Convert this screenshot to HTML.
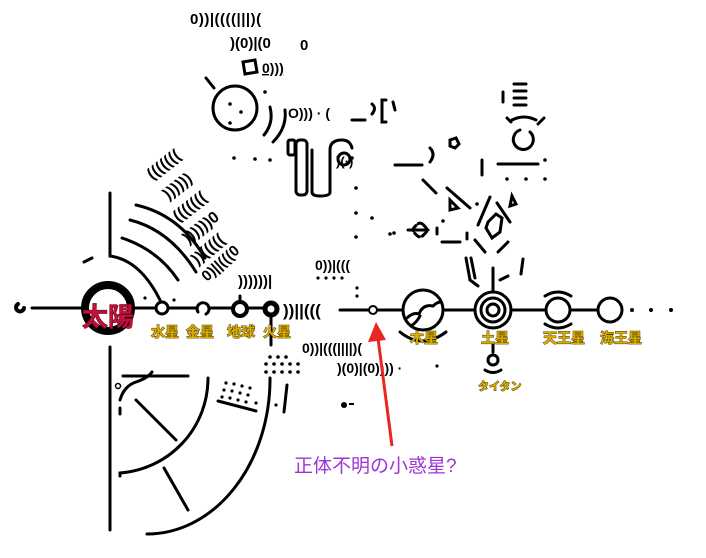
<!DOCTYPE html>
<html><head><meta charset="utf-8"><style>
html,body{margin:0;padding:0;background:#fff;}
svg{display:block}
.p{font-family:"Liberation Sans",sans-serif;font-weight:bold;fill:#000;}
.lab{font-family:"Liberation Sans","Noto Sans CJK JP",sans-serif;font-weight:bold;fill:#dcae00;stroke:#4a3800;stroke-width:0.9;paint-order:stroke;}
</style></head><body>
<svg width="706" height="558" viewBox="0 0 706 558" xmlns="http://www.w3.org/2000/svg">
<g fill="none" stroke="#000" stroke-width="3" stroke-linecap="round">
<path d="M18 304 a4 4 0 1 0 6 4" stroke-width="4"/>
<line x1="32" y1="308" x2="84" y2="308"/>
<line x1="132" y1="308" x2="156" y2="308"/>
<line x1="168" y1="308" x2="196" y2="308"/>
<line x1="210" y1="308" x2="232" y2="308"/>
<line x1="248" y1="308" x2="264" y2="308"/>
<line x1="340" y1="310" x2="368" y2="310"/>
<line x1="378" y1="310" x2="403" y2="310"/>
<line x1="443" y1="310" x2="474" y2="310"/>
<line x1="513" y1="310" x2="544" y2="310"/>
<line x1="570" y1="310" x2="597" y2="310"/>
<circle cx="108" cy="308" r="23" stroke-width="8"/>
<circle cx="162" cy="308" r="6"/>
<path d="M198 312 a6 6 0 1 1 8 2"/>
<circle cx="240" cy="309" r="7" stroke-width="4"/>
<line x1="240" y1="296" x2="240" y2="302"/>
<circle cx="271" cy="309" r="6" stroke-width="5"/>
<circle cx="373" cy="310" r="4" stroke-width="2"/>
<circle cx="423" cy="310" r="20"/>
<path d="M407 318 q6 -6 12 -4 q4 -10 14 -8 q4 -4 8 -4"/>
<path d="M411 326 q6 -4 9 -10"/>
<path d="M400 332 q22 18 46 0"/>
<circle cx="493" cy="310" r="18"/>
<circle cx="493" cy="310" r="12"/>
<circle cx="493" cy="310" r="6"/>
<line x1="493" y1="268" x2="493" y2="290"/>
<line x1="493" y1="343" x2="493" y2="352"/>
<circle cx="493" cy="360" r="5"/>
<path d="M485 370 q8 5 16 0"/>
<circle cx="558" cy="310" r="12"/>
<path d="M545 296 q13 -8 26 0 M545 324 q13 8 26 0"/>
<circle cx="610" cy="310" r="12"/>
<path d="M110 193 L110 256 Q140 260 160 300"/>
<path d="M122 238 Q158 250 178 280"/>
<path d="M130 220 Q170 230 196 272"/>
<path d="M136 205 Q180 215 205 258"/>
<path d="M84 262 L92 258"/>
<line x1="110" y1="347" x2="110" y2="530"/>
<path d="M120 476 L120 473 A95 95 0 0 0 208 378"/>
<path d="M147 534 A123 155 0 0 0 270 378"/>
<line x1="123" y1="376" x2="188" y2="376"/>
<path d="M120 400 q4 -14 16 -18 q12 -4 16 -10"/>
<line x1="120" y1="408" x2="120" y2="414"/>
<line x1="136" y1="400" x2="176" y2="440"/>
<line x1="164" y1="468" x2="188" y2="510"/>
<line x1="218" y1="401" x2="256" y2="411"/>
<line x1="287" y1="385" x2="284" y2="412"/>
<line x1="271" y1="318" x2="271" y2="345"/>
</g>
<circle cx="118" cy="386" r="2.5" fill="none" stroke="#000" stroke-width="1.5"/>
<g fill="#000">
<circle cx="270" cy="357" r="1.8"/><circle cx="278" cy="357" r="1.8"/><circle cx="286" cy="357" r="1.8"/>
<circle cx="266" cy="364" r="1.8"/><circle cx="274" cy="364" r="1.8"/><circle cx="282" cy="364" r="1.8"/><circle cx="290" cy="364" r="1.8"/><circle cx="298" cy="364" r="1.8"/>
<circle cx="266" cy="372" r="1.8"/><circle cx="274" cy="372" r="1.8"/><circle cx="282" cy="372" r="1.8"/><circle cx="290" cy="372" r="1.8"/><circle cx="298" cy="372" r="1.8"/>
<circle cx="226" cy="383" r="1.6"/><circle cx="234" cy="384" r="1.6"/><circle cx="242" cy="386" r="1.6"/><circle cx="250" cy="388" r="1.6"/>
<circle cx="224" cy="390" r="1.6"/><circle cx="232" cy="391" r="1.6"/><circle cx="240" cy="393" r="1.6"/><circle cx="248" cy="395" r="1.6"/>
<circle cx="222" cy="397" r="1.6"/><circle cx="230" cy="398" r="1.6"/><circle cx="238" cy="400" r="1.6"/><circle cx="246" cy="402" r="1.6"/><circle cx="256" cy="403" r="1.6"/>
<circle cx="276" cy="405" r="1.6"/>
<circle cx="344" cy="405" r="3"/><rect x="349" y="403" width="5" height="2"/>
<circle cx="437" cy="366" r="1.6"/>
<circle cx="632" cy="310" r="2"/><circle cx="651" cy="310" r="2"/><circle cx="671" cy="310" r="2"/>
<circle cx="318" cy="278" r="1.6"/><circle cx="326" cy="278" r="1.6"/><circle cx="334" cy="278" r="1.6"/><circle cx="342" cy="278" r="1.6"/>
<circle cx="357" cy="288" r="1.6"/><circle cx="357" cy="296" r="1.6"/>
<circle cx="356" cy="188" r="1.8"/><circle cx="356" cy="213" r="1.8"/><circle cx="372" cy="218" r="1.8"/><circle cx="356" cy="237" r="1.8"/><circle cx="390" cy="234" r="1.8"/>
<circle cx="234" cy="158" r="1.8"/><circle cx="255" cy="159" r="1.8"/><circle cx="270" cy="160" r="1.8"/>
<circle cx="230" cy="104" r="1.8"/><circle cx="241" cy="112" r="1.8"/><circle cx="230" cy="123" r="1.8"/><circle cx="265" cy="92" r="1.8"/>
<circle cx="352" cy="158" r="1.8"/>
<circle cx="545" cy="160" r="1.8"/><circle cx="507" cy="179" r="1.8"/><circle cx="526" cy="179" r="1.8"/><circle cx="545" cy="179" r="1.8"/>
<circle cx="477" cy="204" r="1.8"/><circle cx="443" cy="221" r="1.8"/><circle cx="394" cy="233" r="1.8"/>
<circle cx="145" cy="298" r="1.6"/><circle cx="174" cy="300" r="1.6"/>
</g>
<g fill="none" stroke="#000" stroke-width="3" stroke-linecap="round">
<circle cx="235" cy="108" r="22"/>
<line x1="206" y1="78" x2="214" y2="88"/>
<path d="M243 62 l12 -2 l2 12 l-12 2 z"/>
<path d="M270 107 q4 16 -6 28 M285 110 q2 18 -12 32"/>
<rect x="288" y="140" width="7" height="15" rx="2"/>
<rect x="296" y="140" width="11" height="55" rx="4"/>
<path d="M312 150 v42 q0 4 8 4 q10 0 10 -4 v-42 q0 -10 12 -10 q8 0 10 8"/>
<circle cx="344" cy="159" r="6"/>
<line x1="395" y1="165" x2="422" y2="165"/>
<path d="M430 148 q6 6 0 14"/>
<path d="M450 140 l6 -2 l3 6 l-4 4 l-5 -2 z"/>
<line x1="352" y1="120" x2="365" y2="120"/>
<path d="M372 104 q5 4 0 10"/>
<path d="M386 100 h-4 v22 h4 M393 102 l2 8"/>
<line x1="423" y1="180" x2="436" y2="193"/>
<line x1="447" y1="188" x2="470" y2="208"/>
<path d="M450 200 l8 8 l-8 2 z"/>
<line x1="408" y1="230" x2="428" y2="230"/>
<rect x="414" y="224" width="12" height="12" rx="4" transform="rotate(45 420 230)" stroke-dasharray="6 3"/>
<line x1="437" y1="228" x2="437" y2="234"/>
<line x1="442" y1="242" x2="460" y2="242"/>
<line x1="467" y1="233" x2="467" y2="239"/>
<line x1="482" y1="160" x2="482" y2="175"/>
<line x1="490" y1="197" x2="478" y2="225"/>
<path d="M488 222 l8 -8 l6 4 l-2 14 l-8 6 l-6 -10 z"/>
<line x1="497" y1="203" x2="510" y2="222"/>
<line x1="475" y1="240" x2="485" y2="252"/>
<line x1="508" y1="242" x2="498" y2="252"/>
<path d="M512 196 l4 8 l-6 2 z"/>
<line x1="466" y1="258" x2="470" y2="280 "/>
<line x1="471" y1="258" x2="475" y2="278"/>
<path d="M470 280 l8 6 M500 280 l8 -4"/>
<line x1="523" y1="259" x2="521" y2="274"/>
<line x1="503" y1="92" x2="503" y2="102"/>
<line x1="514" y1="84" x2="526" y2="84"/><line x1="514" y1="91" x2="526" y2="91"/><line x1="514" y1="98" x2="526" y2="98"/><line x1="514" y1="105" x2="526" y2="105"/>
<path d="M507 118 l4 4 M512 120 q12 -6 24 0 M538 124 l6 -6"/>
<path d="M520 130 a10 10 0 1 0 10 2"/>
<line x1="498" y1="164" x2="538" y2="164"/>
</g>
<g class="p">
<text x="190" y="24" font-size="15" letter-spacing="0.5">0))|((((|||)(</text>
<text x="230" y="48" font-size="15">)(0)|(0</text>
<text x="300" y="50" font-size="15">0</text>
<text x="262" y="73" font-size="14" text-decoration="underline">0)))</text>
<text x="288" y="118" font-size="14">O))) · (</text>
<text x="336" y="166" font-size="13">)(·)</text>
<text x="238" y="286" font-size="15">))))))|</text>
<text x="283" y="316" font-size="17">))||(((</text>
<text x="315" y="270" font-size="14">0))|(((</text>
<text x="302" y="353" font-size="14">0))|(((||||)(</text>
<text x="337" y="373" font-size="14">)(0)|(0)))) ·</text>
<text x="152" y="180" font-size="16" transform="rotate(-38 152 180)">(((((((</text>
<text x="168" y="200" font-size="16" transform="rotate(-38 168 200)">))))))</text>
<text x="178" y="222" font-size="16" transform="rotate(-38 178 222)">(((((((</text>
<text x="188" y="244" font-size="16" transform="rotate(-38 188 244)">))))))0</text>
<text x="197" y="265" font-size="16" transform="rotate(-40 197 265)">))(((((</text>
<text x="207" y="282" font-size="15" transform="rotate(-42 207 282)">0)||(((0</text>
</g>
<text x="108" y="326" font-family="Liberation Sans,Noto Sans CJK JP,sans-serif" font-weight="bold" font-size="26" fill="#c0103a" text-anchor="middle" stroke="#4a0010" stroke-width="0.8" paint-order="stroke">太陽</text>
<g class="lab" font-size="14">
<text x="151" y="337">水星</text>
<text x="186" y="337">金星</text>
<text x="227" y="337">地球</text>
<text x="263" y="337">火星</text>
<text x="410" y="343">木星</text>
<text x="481" y="343">土星</text>
<text x="543" y="343">天王星</text>
<text x="600" y="343">海王星</text>
<text x="478" y="390" font-size="11">タイタン</text>
</g>
<line x1="392" y1="446" x2="378" y2="338" stroke="#e8281e" stroke-width="3"/>
<path d="M376 322 L368 342 L386 340 Z" fill="#e8281e"/>
<text x="294" y="472" font-family="Liberation Sans,Noto Sans CJK JP,sans-serif" font-size="19" fill="#9b35d8">正体不明の小惑星?</text>
</svg>
</body></html>
